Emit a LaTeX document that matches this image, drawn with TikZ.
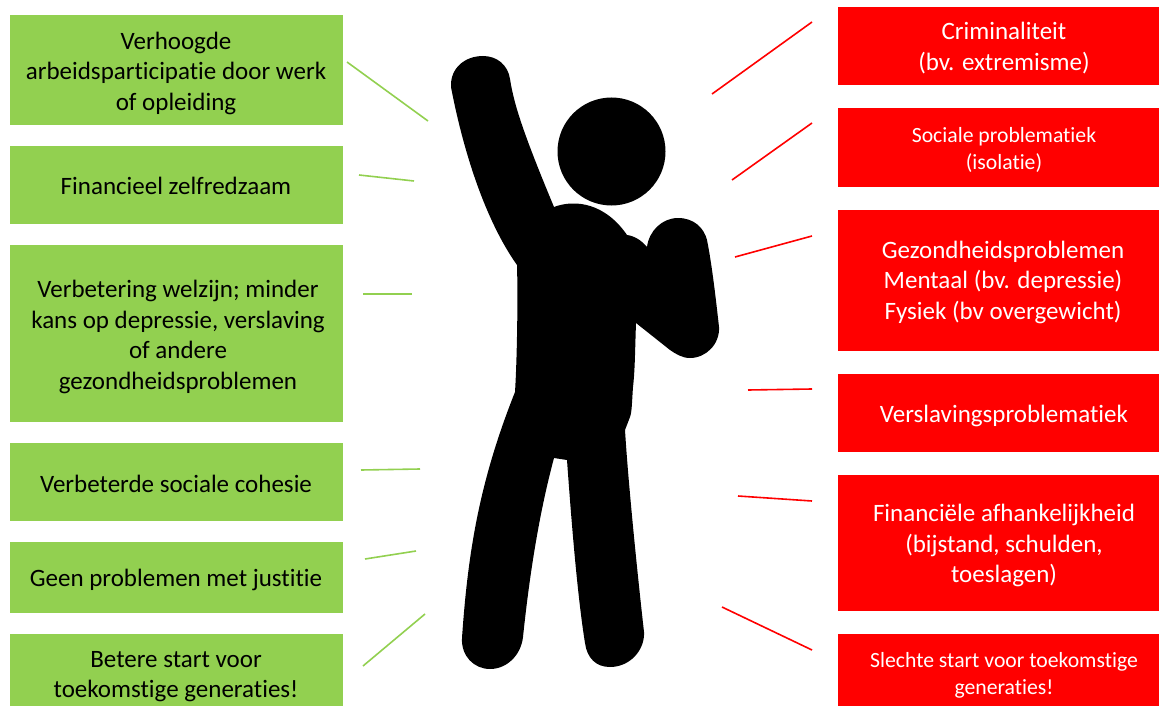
\documentclass[tikz,border=0pt]{standalone}
\usepackage{fontspec}
\setmainfont[Ligatures=CommonOff]{Carlito}
\definecolor{gbox}{HTML}{92D050}
\definecolor{rbox}{HTML}{FF0000}
\tikzset{
  gtext/.style={font=\fontsize{25}{30.5}\selectfont,text=black,align=center},
  rtext/.style={font=\fontsize{25}{30.5}\selectfont,text=white,align=center},
  rsmall/.style={font=\fontsize{21.7}{27}\selectfont,text=white,align=center},
  gline/.style={draw=gbox,line width=1.6pt},
  rline/.style={draw=rbox,line width=1.6pt},
}
\begin{document}
\begin{tikzpicture}[x=1pt,y=-1pt]
\useasboundingbox (0,0) rectangle (1159,706);
% boxes
\foreach \t/\b in {15/125,146/224,245/422,443/521,542/613,634/706}
  \fill[gbox] (10,\t) rectangle (343,\b);
\foreach \t/\b in {7/85,108/187,210/351,374/452,475/611,634/706}
  \fill[rbox] (838,\t) rectangle (1159,\b);
% texts
\node[gtext] (g1) at (176,73) {Verhoogde\\arbeidsparticipatie door werk\\of opleiding};
\node[gtext] (g2) at (176,186) {Financieel zelfredzaam};
\node[gtext] (g3) at (178,337) {Verbetering welzijn; minder\\kans op depressie, verslaving\\of andere\\gezondheidsproblemen};
\node[gtext] (g4) at (176,484) {Verbeterde sociale cohesie};
\node[gtext] (g5) at (176,580) {Geen problemen met justitie};
\node[gtext] (g6) at (176,676.5) {Betere start voor\\toekomstige generaties!};
\node[rtext] (r1) at (1004,48) {Criminaliteit\\(bv. extremisme)};
\node[rsmall] (r2) at (1004,149.5) {Sociale problematiek\\(isolatie)};
\node[rtext] (r3) at (1003,282) {Gezondheidsproblemen\\Mentaal (bv. depressie)\\Fysiek (bv overgewicht)};
\node[rtext] (r4) at (1004,416) {Verslavingsproblematiek};
\node[rtext] (r5) at (1004,545.5) {Financiële afhankelijkheid\\(bijstand, schulden,\\toeslagen)};
\node[rsmall] (r6) at (1004,675.5) {Slechte start voor toekomstige\\generaties!};
% connector ends
\coordinate (ga1) at (347,62);  \coordinate (gb1) at (428,121);
\coordinate (ga2) at (359,175); \coordinate (gb2) at (414,181);
\coordinate (ga3) at (363,294); \coordinate (gb3) at (412,294);
\coordinate (ga4) at (361,470); \coordinate (gb4) at (420,469);
\coordinate (ga5) at (365,559); \coordinate (gb5) at (416,551);
\coordinate (ga6) at (363,666); \coordinate (gb6) at (425,614);
\coordinate (ra1) at (812,22);  \coordinate (rb1) at (712,94);
\coordinate (ra2) at (812,123); \coordinate (rb2) at (732,180);
\coordinate (ra3) at (812,236); \coordinate (rb3) at (735,257);
\coordinate (ra4) at (812,389); \coordinate (rb4) at (748,390);
\coordinate (ra5) at (812,501); \coordinate (rb5) at (738,496);
\coordinate (ra6) at (812,650); \coordinate (rb6) at (722,607);
\foreach \i in {1,...,6} {
  \draw[gline] (ga\i) -- (gb\i);
  \draw[rline] (ra\i) -- (rb\i);
}
% figure
\fill[black] (611.5,151.5) circle (54);
\fill[black]
  (451,87)
  .. controls (450,68) and (465,56) .. (483,56)
  .. controls (497,56) and (508,65) .. (510,79)
  .. controls (514,105) and (524,135) .. (554,207)
  .. controls (575,199) and (605,203) .. (627,235)
  .. controls (635,236) and (642,241) .. (647,247)
  .. controls (649,231) and (662,218) .. (678,218)
  .. controls (694,218) and (704,228) .. (707,240)
  .. controls (712,265) and (716,300) .. (719,327)
  .. controls (720,344) and (706,358) .. (690,358)
  .. controls (682,358) and (676,354) .. (670,350)
  -- (636,323)
  .. controls (635,350) and (635,370) .. (633,387)
  .. controls (632,400) and (632,412) .. (630,417)
  -- (625,430)
  .. controls (628,480) and (637,570) .. (644,632)
  .. controls (645,650) and (630,667) .. (610,667)
  .. controls (596,667) and (587,658) .. (585,643)
  .. controls (578,600) and (572,530) .. (567,460)
  -- (554,458)
  .. controls (540,510) and (530,570) .. (523,637)
  .. controls (521,655) and (507,669) .. (490,669)
  .. controls (474,669) and (461,656) .. (462,638)
  .. controls (468,550) and (480,480) .. (515,392)
  .. controls (517,360) and (518,300) .. (517,265)
  .. controls (485,220) and (463,150) .. (451,87)
  -- cycle;
\end{tikzpicture}
\end{document}
